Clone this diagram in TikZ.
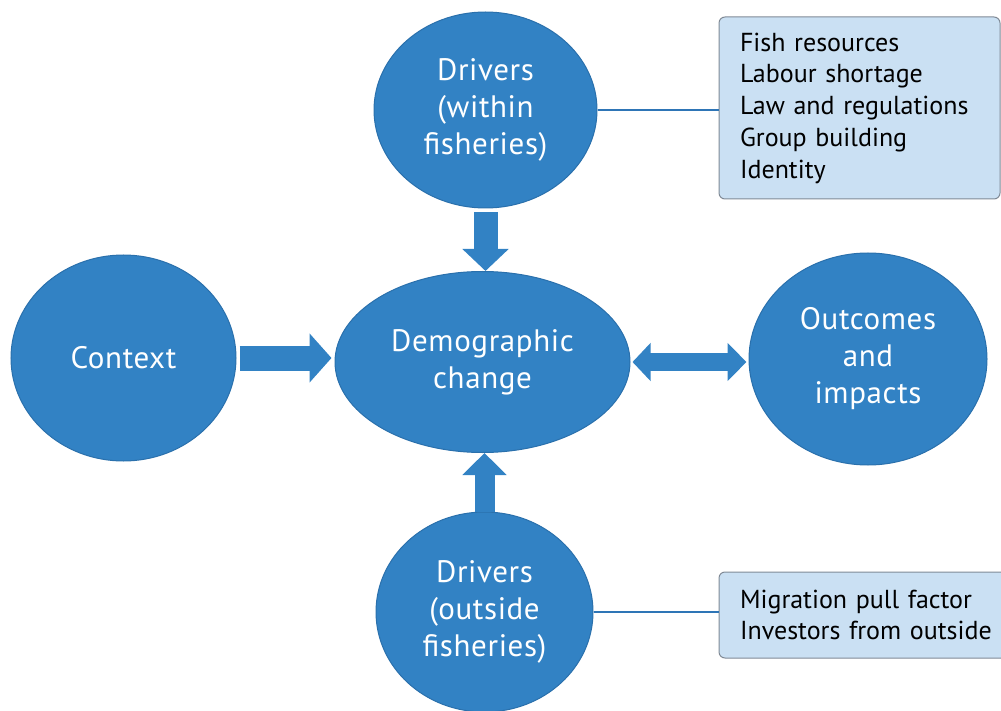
\documentclass[tikz,border=0pt]{standalone}
\usepackage{fontspec}
\setmainfont{PT Sans}
\newfontfamily\blobfont{PT Sans}[LetterSpace = 2]
\usetikzlibrary{arrows.meta}
\usetikzlibrary{shapes.geometric}
\definecolor{ellblue}{RGB}{50,130,196}
\definecolor{ellline}{RGB}{42,112,172}
\definecolor{boxblue}{RGB}{202,224,243}
\definecolor{boxline}{RGB}{128,138,150}
\definecolor{linkblue}{RGB}{46,117,182}
\tikzset{blob/.style = {ellipse, fill = ellblue, draw = ellline, line width = 1pt, inner sep = 0, text = white, align = center, font = \blobfont\fontsize{31}{37}\selectfont}}
\tikzset{listbox/.style = {rectangle, rounded corners = 6pt, fill = boxblue, draw = boxline, line width = 1pt, inner xsep = 21pt, align = left, font = \fontsize{26}{31.75}\selectfont}}
\tikzset{fatarrow/.style 2 args = {ellblue, line width = #1, -{Triangle[width = #2, length = 22pt]}}}
\tikzset{link/.style = {linkblue, line width = 1.5pt}}

\begin{document}
\begin{tikzpicture}[x = 1pt, y = -1pt]
      \useasboundingbox (0, 0) rectangle (1001, 711);

      \node [blob, minimum width = 223pt, minimum height = 196pt] at (485.5, 110) (drvin) {Drivers\\(within\\fisheries)};
      \node [blob, minimum width = 225pt, minimum height = 206pt] at (123.5, 358) (ctx) {Context};
      \node [blob, minimum width = 295pt, minimum height = 181pt] at (482.5, 362) (demo) {Demographic\\change};
      \node [blob, minimum width = 238pt, minimum height = 212pt] at (868, 359) (outc) {Outcomes\\and\\impacts};
      \node [blob, minimum width = 217pt, minimum height = 200pt] at (484.5, 612) (drvout) {Drivers\\(outside\\fisheries)};

      \node [listbox, text width = 239pt, minimum height = 182pt] at (859.5, 108) (fishbox) {Fish resources\\Labour shortage\\Law and regulations\\Group building\\Identity};
      \node [listbox, text width = 262pt, minimum height = 86pt] at (871, 615) (outbox) {Migration pull factor\\Investors from outside};

      \draw [link] (drvin.east) -- (drvin.east -| fishbox.west);
      \draw [link] (drvout.east) -- (drvout.east -| outbox.west);

      \draw [fatarrow = {24pt}{45pt}, shorten <= 4pt] (drvin.south) -- (drvin.south |- demo.north);
      \draw [fatarrow = {25pt}{48pt}, shorten <= 3pt, shorten >= 3pt] (ctx.east) -- (ctx.east -| demo.west);
      \draw [fatarrow = {20pt}{43pt}] (drvout.north) -- (drvout.north |- demo.south);
      \draw [ellblue, line width = 18pt, {Triangle[width = 37pt, length = 18pt]}-{Triangle[width = 37pt, length = 19pt]}, shorten <= 2pt, shorten >= 2pt] (demo.east) -- (demo.east -| outc.west);
\end{tikzpicture}
\end{document}
